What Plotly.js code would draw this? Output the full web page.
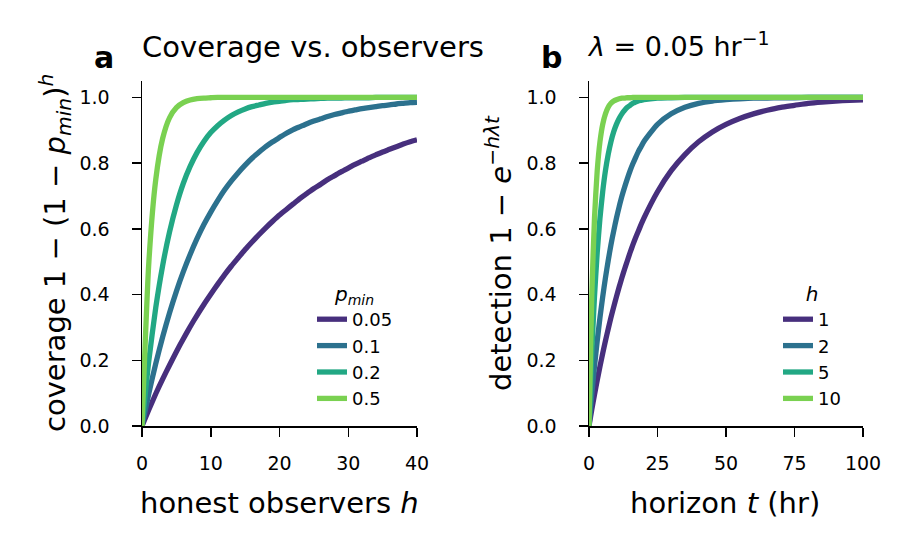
<!DOCTYPE html>
<html>
<head>
<meta charset="utf-8">
<script src="https://cdn.plot.ly/plotly-3.0.1.min.js"></script>
<style>
  html, body { margin: 0; padding: 0; background: #fff; }
  #chart { width: 912px; height: 550px; }
</style>
</head>
<body>
<div id="chart"></div>
<script>
// Panel a: coverage 1 - (1 - p_min)^h against number of honest observers h
const observers = [0,1,2,3,4,5,6,7,8,9,10,11,12,13,14,15,16,17,18,19,20,
                   21,22,23,24,25,26,27,28,29,30,31,32,33,34,35,36,37,38,39,40];
const pMinLabels = ['0.05', '0.1', '0.2', '0.5'];
const coverageP005 = [0,.050,.098,.143,.185,.226,.265,.302,.337,.370,.401,.431,.460,.487,.512,.537,.560,.582,.603,.623,.642,
                      .659,.676,.693,.708,.723,.736,.750,.762,.774,.785,.796,.806,.816,.825,.834,.842,.850,.858,.865,.871];
const coverageP01  = [0,.100,.190,.271,.344,.410,.469,.522,.570,.613,.651,.686,.718,.746,.771,.794,.815,.833,.850,.865,.878,
                      .891,.902,.911,.920,.928,.935,.942,.948,.953,.958,.962,.966,.969,.972,.975,.977,.980,.982,.984,.985];
const coverageP02  = [0,.200,.360,.488,.590,.672,.738,.790,.832,.866,.893,.914,.931,.945,.956,.965,.972,.977,.982,.986,.988,
                      .991,.993,.994,.995,.996,.997,.998,.998,.998,.999,.999,.999,.999,1,1,1,1,1,1,1];
const coverageP05  = [0,.500,.750,.875,.938,.969,.984,.992,.996,.998,.999,1,1,1,1,1,1,1,1,1,1,
                      1,1,1,1,1,1,1,1,1,1,1,1,1,1,1,1,1,1,1,1];

// Panel b: detection 1 - exp(-h * lambda * t), lambda = 0.05 per hour
const horizonHours = [0,1,2,3,4,5,6,7,8,9,10,11,12,13,14,15,16,17,18,19,20,
                      25,30,35,40,45,50,55,60,65,70,75,80,85,90,95,100];
const hLabels = ['1', '2', '5', '10'];
const detectH1  = [0,.049,.095,.139,.181,.221,.259,.295,.330,.362,.393,.423,.451,.478,.503,.528,.551,.573,.593,.613,.632,
                   .713,.777,.826,.865,.895,.918,.936,.950,.961,.970,.976,.982,.986,.989,.991,.993];
const detectH2  = [0,.095,.181,.259,.330,.393,.451,.503,.551,.593,.632,.667,.699,.727,.753,.777,.798,.817,.835,.850,.865,
                   .918,.950,.970,.982,.989,.993,.996,.998,.998,.999,.999,1,1,1,1,1];
const detectH5  = [0,.221,.393,.528,.632,.713,.777,.826,.865,.895,.918,.936,.950,.961,.970,.976,.982,.986,.989,.991,.993,
                   .998,.999,1,1,1,1,1,1,1,1,1,1,1,1,1,1];
const detectH10 = [0,.393,.632,.777,.865,.918,.950,.970,.982,.989,.993,.996,.998,.998,.999,.999,1,1,1,1,1,
                   1,1,1,1,1,1,1,1,1,1,1,1,1,1,1,1];

const palette = ['#472f7d', '#2c718e', '#22a884', '#7ad151'];
const FONT = 'DejaVu Sans, Liberation Sans, sans-serif';
const LINE_W = 5.3;

const coverageSeries = [coverageP005, coverageP01, coverageP02, coverageP05];
const detectSeries = [detectH1, detectH2, detectH5, detectH10];

const traces = [];
coverageSeries.forEach((ys, i) => {
  traces.push({
    type: 'scatter', mode: 'lines', x: observers, y: ys,
    name: pMinLabels[i], xaxis: 'x', yaxis: 'y', legend: 'legend',
    line: { color: palette[i], width: LINE_W, shape: 'spline', smoothing: 0.6 },
    hoverinfo: 'skip'
  });
});
detectSeries.forEach((ys, i) => {
  traces.push({
    type: 'scatter', mode: 'lines', x: horizonHours, y: ys,
    name: hLabels[i], xaxis: 'x2', yaxis: 'y2', legend: 'legend2',
    line: { color: palette[i], width: LINE_W, shape: 'spline', smoothing: 0.6 },
    hoverinfo: 'skip'
  });
});

const W = 912, H = 550;
const px = v => v / W;
const py = v => 1 - v / H;

const axisCommon = {
  showgrid: false, zeroline: false, showline: true,
  linecolor: '#000', linewidth: 1.5,
  ticks: 'outside', ticklen: 9, tickwidth: 1.5, tickcolor: '#000',
  tickfont: { family: FONT, size: 19, color: '#000' },
  fixedrange: true
};

const yDomain = [py(426), py(81)];

const legendCommon = {
  xanchor: 'left', yanchor: 'top',
  bgcolor: 'rgba(0,0,0,0)', borderwidth: 0,
  font: { family: FONT, size: 18, color: '#000' },
  itemwidth: 30
};

const layout = {
  width: W, height: H,
  margin: { l: 0, r: 0, t: 0, b: 0 },
  paper_bgcolor: '#fff', plot_bgcolor: '#fff',
  font: { family: FONT, color: '#000' },
  showlegend: true,
  xaxis: Object.assign({}, axisCommon, {
    domain: [px(142), px(417)], range: [0, 40], tickvals: [0, 10, 20, 30, 40],
    anchor: 'y', ticklabelstandoff: 11
  }),
  yaxis: Object.assign({}, axisCommon, {
    domain: yDomain, range: [0, 1.05], tickvals: [0, 0.2, 0.4, 0.6, 0.8, 1.0],
    tickformat: '.1f', anchor: 'x', ticklabelstandoff: 18
  }),
  xaxis2: Object.assign({}, axisCommon, {
    domain: [px(589), px(863)], range: [0, 100], tickvals: [0, 25, 50, 75, 100],
    anchor: 'y2', ticklabelstandoff: 11
  }),
  yaxis2: Object.assign({}, axisCommon, {
    domain: yDomain, range: [0, 1.05], tickvals: [0, 0.2, 0.4, 0.6, 0.8, 1.0],
    tickformat: '.1f', anchor: 'x2', ticklabelstandoff: 18
  }),
  legend: Object.assign({}, legendCommon, {
    x: px(312), y: py(275),
    title: { text: '<i>p</i><sub><i>min</i></sub>', side: 'top center', font: { family: FONT, size: 20 } }
  }),
  legend2: Object.assign({}, legendCommon, {
    x: px(778), y: py(275),
    title: { text: '<i>h</i>', side: 'top center', font: { family: FONT, size: 20 } }
  }),
  annotations: [
    { text: '<b>a</b>', x: px(104), y: py(57), font: { size: 30 } },
    { text: 'Coverage vs. observers', x: px(313), y: py(47), font: { size: 29 } },
    { text: '<b>b</b>', x: px(551), y: py(57), font: { size: 30 } },
    { text: '<i>λ</i> = 0.05 hr<sup>−1</sup>', x: px(678), y: py(45), font: { size: 27 } },
    { text: 'coverage 1 − (1 − <i>p</i><sub><i>min</i></sub>)<sup><i>h</i></sup>', x: px(55), y: py(253), textangle: -90, font: { size: 29 } },
    { text: 'detection 1 − <i>e</i><sup>−<i>hλt</i></sup>', x: px(499), y: py(253), textangle: -90, font: { size: 29 } },
    { text: 'honest observers <i>h</i>', x: px(279), y: py(503), font: { size: 29 } },
    { text: 'horizon <i>t</i> (hr)', x: px(725), y: py(503), font: { size: 29 } }
  ].map(a => Object.assign({
    xref: 'paper', yref: 'paper', showarrow: false,
    xanchor: 'center', yanchor: 'middle'
  }, a, { font: Object.assign({ family: FONT, color: '#000' }, a.font) }))
};

Plotly.newPlot('chart', traces, layout, { staticPlot: true, displayModeBar: false });
</script>
</body>
</html>
